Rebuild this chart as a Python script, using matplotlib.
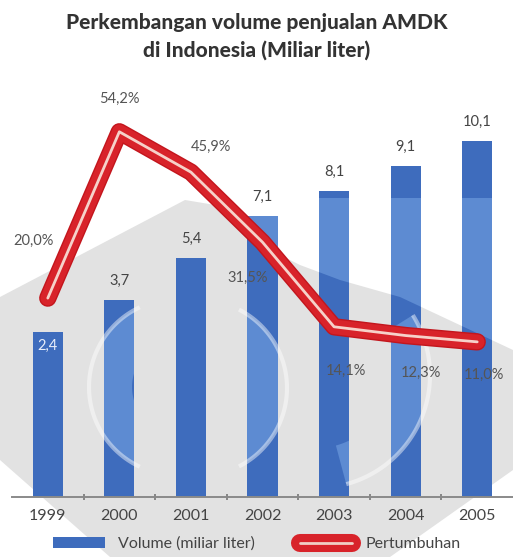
import numpy as np
import matplotlib
matplotlib.use("Agg")
import matplotlib.pyplot as plt
import matplotlib.patheffects as pe
from matplotlib import font_manager
from matplotlib.path import Path
from matplotlib.patches import PathPatch, Polygon, Patch
from matplotlib.lines import Line2D

# data: AMDK sales volume (billion litres) and yearly growth (%)
years = ["1999", "2000", "2001", "2002", "2003", "2004", "2005"]
volume = [2.4, 3.7, 5.4, 7.1, 8.1, 9.1, 10.1]
growth = [20.0, 54.2, 45.9, 31.5, 14.1, 12.3, 11.0]
vol_labels = ["2,4", "3,7", "5,4", "7,1", "8,1", "9,1", "10,1"]
growth_labels = ["20,0%", "54,2%", "45,9%", "31,5%", "14,1%", "12,3%", "11,0%"]

installed = {f.name for f in font_manager.fontManager.ttflist}
narrow = "Liberation Sans Narrow" if "Liberation Sans Narrow" in installed else "Lato"
plt.rcParams["font.family"] = [narrow, "DejaVu Sans"]

W, H = 513, 557
DARK = "#3e6cbd"
LIGHT = "#5d8bd2"
RED = "#d8232a"
TXT = "#444444"

fig = plt.figure(figsize=(W / 100, H / 100), dpi=100)
fig.patch.set_facecolor("white")

# background watermark layer, pixel coordinates
back = fig.add_axes([0, 0, 1, 1], zorder=0)
back.set_xlim(0, W)
back.set_ylim(H, 0)
back.axis("off")

roof = [(0, 297), (185, 200), (215, 205), (250, 240), (300, 265), (340, 280),
        (400, 297), (513, 350), (513, 470), (390, 557), (110, 557), (0, 460)]
back.add_patch(Polygon(roof, closed=True, facecolor="#e2e2e2", edgecolor="none"))


def sector(cx, cy, r_out, r_in, a0, a1, n=60):
    t = np.radians(np.linspace(a0, a1, n))
    outer = np.c_[cx + r_out * np.cos(t), cy - r_out * np.sin(t)]
    inner = np.c_[cx + r_in * np.cos(t[::-1]), cy - r_in * np.sin(t[::-1])]
    return np.vstack([outer, inner, outer[:1]]), outer


band = np.array([(222, 198), (513, 198), (513, 350), (400, 297), (340, 280),
                 (300, 265), (250, 240), (215, 205), (222, 198)], float)
left_c, left_edge = sector(177, 387, 88, 45, 115, 245)
right_c, right_edge = sector(199, 388, 88, 48, -63, 63)
low_c, low_edge = sector(317, 375, 113, 73, -75, 32)

light_path = Path.make_compound_path(*[Path(p, closed=True) for p in (band, left_c, right_c, low_c)])
light_clip = PathPatch(light_path, transform=back.transData)

# main chart
ax = fig.add_axes([12 / W, (H - 497) / H, 1 - 12 / W, 397 / H], zorder=1)
ax.patch.set_visible(False)
x = np.arange(len(years))
base = -4.25
ax.set_ylim(base, base + 397 / 24.8)
ax.set_xlim(-0.5, 6.5)

heights = np.array(volume) - base
ax.bar(x, heights, bottom=base, width=0.42, color=DARK, zorder=2)
light_bars = ax.bar(x, heights, bottom=base, width=0.42, color=LIGHT, zorder=2)
for b in light_bars:
    b.set_clip_path(light_clip)

for i, (v, lab) in enumerate(zip(volume, vol_labels)):
    if i == 0:
        ax.annotate(lab, (x[i], v), xytext=(0, -14), textcoords="offset pixels",
                    ha="center", va="center", fontsize=10.5, color="#e8eefa", zorder=5)
    else:
        ax.annotate(lab, (x[i], v), xytext=(0, 19), textcoords="offset pixels",
                    ha="center", va="center", fontsize=10.5, color=TXT, zorder=5)

for s in ["top", "left", "right"]:
    ax.spines[s].set_visible(False)
ax.spines["bottom"].set_color("#8a8a8a")
ax.spines["bottom"].set_linewidth(1.4)
ax.set_yticks([])
ax.set_xticks(x, years)
ax.set_xticks(x[:-1] + 0.5, minor=True)
ax.tick_params(axis="x", which="major", length=0, pad=9, labelsize=11.5, labelcolor=TXT)
ax.tick_params(axis="x", which="minor", length=5, direction="inout", color="#777777", width=1.2)

# white rim of the watermark rings, above the bars
front = fig.add_axes([0, 0, 1, 1], zorder=2)
front.set_xlim(0, W)
front.set_ylim(H, 0)
front.axis("off")
front.patch.set_visible(False)
for edge in (left_edge, right_edge, low_edge):
    front.plot(edge[:, 0], edge[:, 1], color="white", lw=3, alpha=0.45, solid_capstyle="butt")

# growth line on its own scale
ax2 = ax.twinx()
ax2.set_zorder(3)
ax2.patch.set_visible(False)
g0 = -20.9
ax2.set_ylim(g0, g0 + 397 / 4.863)
ax2.axis("off")
line_fx = [pe.Stroke(linewidth=12.5, foreground="#c3161d"),
           pe.Stroke(linewidth=10.5, foreground=RED),
           pe.Normal()]
ax2.plot(x, growth, color="#f6d2ca", lw=2, solid_capstyle="round", solid_joinstyle="round",
         path_effects=line_fx)

offsets = [(-14, 57), (0, 33), (20, 25), (-15, -36), (12, -44), (15, -37), (7, -33)]
for i, (g, lab) in enumerate(zip(growth, growth_labels)):
    ax2.annotate(lab, (x[i], g), xytext=offsets[i], textcoords="offset pixels",
                 ha="center", va="center", fontsize=10.5, color="#555555")

fig.text(0.5, 1 - 22 / H, "Perkembangan volume penjualan AMDK", ha="center", va="center",
         fontsize=15, fontweight="black", color="#333333")
fig.text(0.5, 1 - 50 / H, "di Indonesia (Miliar liter)", ha="center", va="center",
         fontsize=15, fontweight="black", color="#333333")

handles = [Patch(facecolor=DARK, edgecolor="none"),
           Line2D([], [], color="#f0cfc6", lw=2, solid_capstyle="round",
                  path_effects=[pe.Stroke(linewidth=13, foreground=RED, capstyle="round"), pe.Normal()])]
fig.legend(handles, ["Volume (miliar liter)", "Pertumbuhan"], loc="center",
           bbox_to_anchor=(0.5, 1 - 544 / H), ncol=2, frameon=False, fontsize=11.5,
           handlelength=3.3, handleheight=0.7, handletextpad=0.8, columnspacing=2.8,
           labelcolor=TXT)

fig.savefig("out.png", dpi=100)
